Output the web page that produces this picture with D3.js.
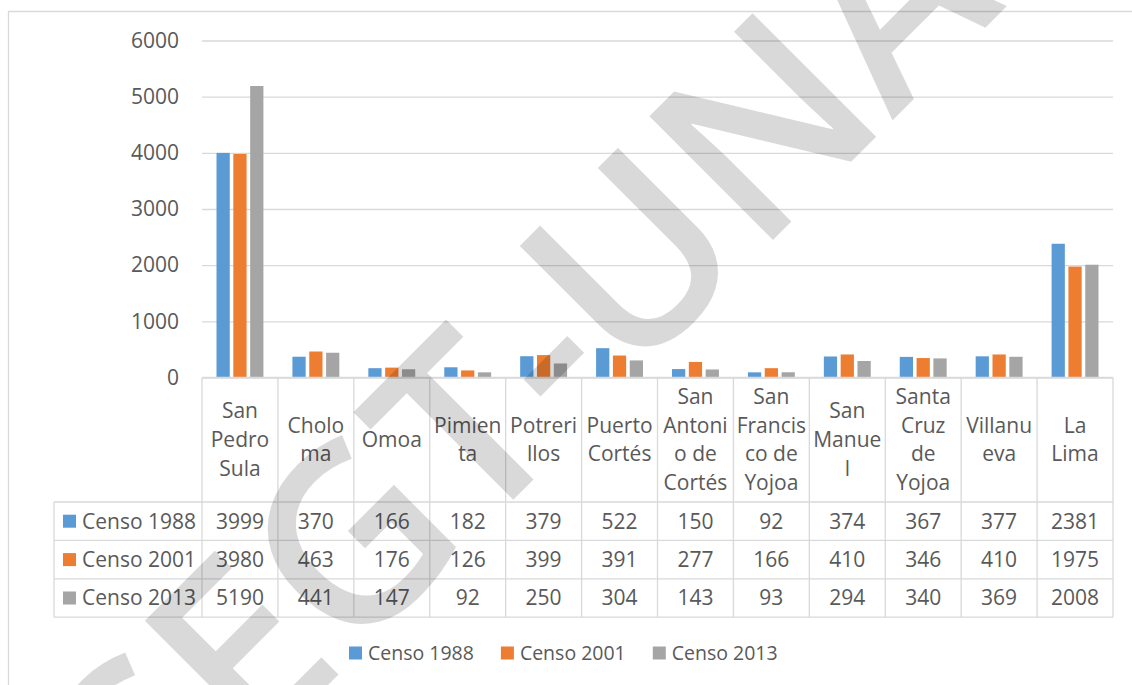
<!DOCTYPE html>
<html>
<head>
<meta charset="utf-8">
<script src="https://cdn.jsdelivr.net/npm/d3@7"></script>
<style>
  html, body { margin: 0; padding: 0; background: #fff; }
  svg { display: block; font-family: "Open Sans", sans-serif; }
</style>
</head>
<body>
<svg id="chart" width="1132" height="685"></svg>
<script>
// Población por municipio (Cortés) según censo
const municipios = ["San Pedro Sula", "Choloma", "Omoa", "Pimienta", "Potrerillos", "Puerto Cortés",
    "San Antonio de Cortés", "San Francisco de Yojoa", "San Manuel", "Santa Cruz de Yojoa", "Villanueva", "La Lima"];
// etiquetas partidas en líneas, como aparecen en la tabla
const etiquetas = [["San", "Pedro", "Sula"], ["Cholo", "ma"], ["Omoa"], ["Pimien", "ta"], ["Potreri", "llos"],
    ["Puerto", "Cortés"], ["San", "Antoni", "o de", "Cortés"], ["San", "Francis", "co de", "Yojoa"],
    ["San", "Manue", "l"], ["Santa", "Cruz", "de", "Yojoa"], ["Villanu", "eva"], ["La", "Lima"]];
const series = ["Censo 1988", "Censo 2001", "Censo 2013"];
const censo1988 = [3999, 370, 166, 182, 379, 522, 150, 92, 374, 367, 377, 2381];
const censo2001 = [3980, 463, 176, 126, 399, 391, 277, 166, 410, 346, 410, 1975];
const censo2013 = [5190, 441, 147, 92, 250, 304, 143, 93, 294, 340, 369, 2008];
const yTicks = [0, 1000, 2000, 3000, 4000, 5000, 6000];
const colores = ["#5b9bd5", "#ed7d31", "#a5a5a5"];
const marcaAgua = "SEGT-UNA";

const valores = [censo1988, censo2001, censo2013];

// Dimensiones
const width = 1132, height = 685;
const plot = { left: 202, right: 1113, top: 40.5, bottom: 377.5 };
const tablaLeft = 54, cabeceraBottom = 502, filaH = 38.4;
const gris = "#d9d9d9", texto = "#595959";

const svg = d3.select("#chart");

// Escalas
const x = d3.scaleBand().domain(municipios).range([plot.left, plot.right]).padding(0);
const x1 = d3.scaleBand().domain(series).range([0, x.bandwidth()])
    .paddingInner(0.2126).paddingOuter(0.862);
const y = d3.scaleLinear().domain([0, 6000]).range([plot.bottom, plot.top]);

// Marco del gráfico
svg.append("path")
    .attr("d", `M8.5,${height + 2}V11.5H${width + 2}`)
    .attr("fill", "none").attr("stroke", gris).attr("stroke-width", 1.3);

// Líneas de cuadrícula
svg.append("g")
    .attr("transform", `translate(${plot.left},0)`)
    .call(d3.axisLeft(y).tickValues(yTicks).tickSize(-(plot.right - plot.left)).tickFormat(""))
    .call(g => g.select(".domain").remove())
    .call(g => g.selectAll("line").attr("stroke", gris).attr("stroke-width", 1.3));

// Etiquetas eje Y
svg.append("g")
    .attr("transform", `translate(${plot.left},0)`)
    .call(d3.axisLeft(y).tickValues(yTicks).tickSize(0).tickPadding(23).tickFormat(d3.format("d")))
    .call(g => g.select(".domain").remove())
    .call(g => g.selectAll("text")
        .attr("font-family", "Open Sans").attr("font-size", 21).attr("fill", texto));

// Barras
series.forEach((s, i) => {
    svg.append("g").selectAll("rect")
        .data(valores[i])
        .join("rect")
        .attr("x", (d, j) => x(municipios[j]) + x1(s))
        .attr("y", d => y(d))
        .attr("width", x1.bandwidth())
        .attr("height", d => y(0) - y(d))
        .attr("fill", colores[i]);
});

// Tabla de datos
const tabla = svg.append("g").attr("stroke", gris).attr("stroke-width", 1.3).attr("fill", "none");
const filas = series.map((s, i) => cabeceraBottom + i * filaH);
const tablaBottom = cabeceraBottom + series.length * filaH;

// líneas horizontales
filas.concat([tablaBottom]).forEach(yy => {
    tabla.append("line").attr("x1", tablaLeft).attr("x2", plot.right).attr("y1", yy).attr("y2", yy);
});
tabla.append("line").attr("x1", plot.left).attr("x2", plot.right).attr("y1", plot.bottom).attr("y2", plot.bottom);
// líneas verticales
municipios.forEach(m => {
    tabla.append("line").attr("x1", x(m)).attr("x2", x(m)).attr("y1", plot.bottom).attr("y2", tablaBottom);
});
tabla.append("line").attr("x1", plot.right).attr("x2", plot.right).attr("y1", plot.bottom).attr("y2", tablaBottom);
tabla.append("line").attr("x1", tablaLeft).attr("x2", tablaLeft).attr("y1", cabeceraBottom).attr("y2", tablaBottom);

// cabecera con nombres de municipios
const cabCentro = (plot.bottom + cabeceraBottom) / 2;
const lineaH = 28.7;
municipios.forEach((m, j) => {
    const lineas = etiquetas[j];
    const t = svg.append("text")
        .attr("text-anchor", "middle")
        .attr("font-size", 21)
        .attr("fill", texto);
    lineas.forEach((l, k) => {
        t.append("tspan")
            .attr("x", x(m) + x.bandwidth() / 2)
            .attr("y", cabCentro + (k - (lineas.length - 1) / 2) * lineaH)
            .attr("dy", "0.35em")
            .text(l);
    });
});

// filas de valores
series.forEach((s, i) => {
    const yc = filas[i] + filaH / 2;
    svg.append("rect")
        .attr("x", 63).attr("y", yc - 6.5).attr("width", 13).attr("height", 13)
        .attr("fill", colores[i]);
    svg.append("text")
        .attr("x", 82).attr("y", yc).attr("dy", "0.35em")
        .attr("font-size", 21).attr("fill", texto)
        .text(s);
    svg.append("g").selectAll("text")
        .data(valores[i])
        .join("text")
        .attr("x", (d, j) => x(municipios[j]) + x.bandwidth() / 2)
        .attr("y", yc).attr("dy", "0.35em")
        .attr("text-anchor", "middle")
        .attr("font-size", 21).attr("fill", texto)
        .text(d => d);
});

// Leyenda inferior
const leyenda = svg.append("g").attr("transform", "translate(349,653)");
let lx = 0;
series.forEach((s, i) => {
    leyenda.append("rect")
        .attr("x", lx).attr("y", -6.5).attr("width", 13).attr("height", 13)
        .attr("fill", colores[i]);
    const t = leyenda.append("text")
        .attr("x", lx + 19).attr("dy", "0.35em")
        .attr("font-size", 19.5).attr("fill", texto)
        .text(s);
    lx += 19 + t.node().getComputedTextLength() + 27;
});

// Marca de agua (diagonal, semitransparente)
svg.append("text")
    .attr("transform", "translate(582,431) rotate(-45)")
    .attr("text-anchor", "middle")
    .attr("font-size", 245)
    .attr("font-weight", 600)
    .attr("fill", "#000")
    .attr("fill-opacity", 0.15)
    .text(marcaAgua);
</script>
</body>
</html>
